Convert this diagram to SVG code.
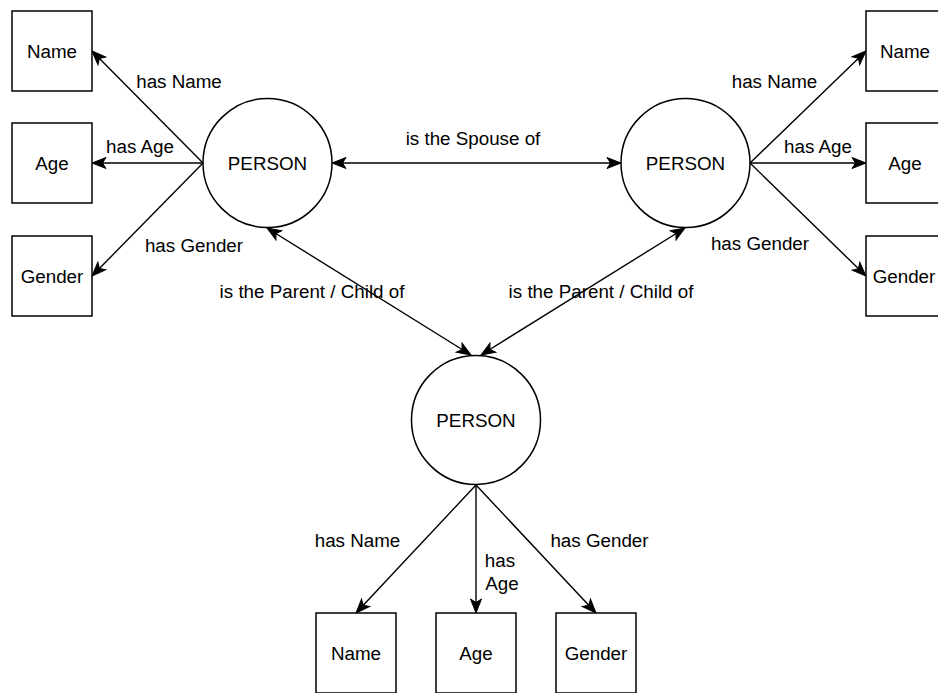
<svg xmlns="http://www.w3.org/2000/svg" width="938" height="693" viewBox="0 0 938 693">
<style>
text{font-family:"Liberation Sans",Arial,Helvetica,sans-serif;font-size:18.8px;fill:#000;text-anchor:middle}
.shape{fill:#fff;stroke:#000;stroke-width:1.5}
.edge{fill:none;stroke:#000;stroke-width:1.4}
.arr{marker-end:url(#ah)}
.bi{marker-start:url(#ah);marker-end:url(#ah)}
</style>
<defs>
<marker id="ah" markerUnits="userSpaceOnUse" markerWidth="16" markerHeight="14" viewBox="-1 -7 16 14" refX="14" refY="0" orient="auto-start-reverse">
<path d="M0,-5.5 L14,0 L0,5.5 L3.5,0 Z" fill="#000" stroke="#000" stroke-width="1" stroke-linejoin="miter"/>
</marker>
</defs>
<rect width="938" height="693" fill="#fff"/>
<g id="connectors">
<line class="edge arr" x1="203" y1="163" x2="92" y2="51"/>
<line class="edge arr" x1="203" y1="163" x2="92" y2="163"/>
<line class="edge arr" x1="203" y1="163" x2="92" y2="276"/>
<line class="edge arr" x1="750" y1="163" x2="866" y2="51"/>
<line class="edge arr" x1="750" y1="163" x2="866" y2="163"/>
<line class="edge arr" x1="750" y1="163" x2="866" y2="276"/>
<line class="edge bi" x1="332" y1="163" x2="621" y2="163"/>
<line class="edge bi" x1="267" y1="228" x2="471" y2="355"/>
<line class="edge bi" x1="685" y1="228" x2="481" y2="355"/>
<line class="edge arr" x1="476" y1="485" x2="356" y2="613"/>
<line class="edge arr" x1="476" y1="485" x2="476" y2="613"/>
<line class="edge arr" x1="476" y1="485" x2="596" y2="613"/>
<text x="179" y="87.5">has Name</text>
<text x="140" y="153">has Age</text>
<text x="194" y="251.5">has Gender</text>
<text x="774.5" y="88">has Name</text>
<text x="818" y="153">has Age</text>
<text x="760" y="249.5">has Gender</text>
<text x="473" y="144.5">is the Spouse of</text>
<text x="312" y="297.5">is the Parent / Child of</text>
<text x="601" y="297.5">is the Parent / Child of</text>
<text x="357.5" y="546.5">has Name</text>
<text x="500" y="566.5">has</text>
<text x="502" y="589.5">Age</text>
<text x="599.5" y="546.5">has Gender</text>
</g>
<g id="person-left"><circle class="shape" cx="267.5" cy="163" r="64.5"/><text x="267.5" y="169.5">PERSON</text></g>
<g id="person-right"><circle class="shape" cx="685.5" cy="163" r="64.5"/><text x="685.5" y="169.5">PERSON</text></g>
<g id="person-bottom"><circle class="shape" cx="476" cy="420" r="64.5"/><text x="476" y="426.5">PERSON</text></g>
<g id="left-name"><rect class="shape" x="12" y="11" width="80" height="80"/><text x="52" y="57.5">Name</text></g>
<g id="left-age"><rect class="shape" x="12" y="123" width="80" height="80"/><text x="52" y="169.5">Age</text></g>
<g id="left-gender"><rect class="shape" x="12" y="236" width="80" height="80"/><text x="52" y="282.5">Gender</text></g>
<g id="right-name"><rect class="shape" x="866" y="11" width="80" height="80"/><text x="905" y="57.5">Name</text></g>
<g id="right-age"><rect class="shape" x="866" y="123" width="80" height="80"/><text x="905" y="169.5">Age</text></g>
<g id="right-gender"><rect class="shape" x="866" y="236" width="80" height="80"/><text x="904" y="282.5">Gender</text></g>
<g id="bottom-name"><rect class="shape" x="316" y="613" width="80" height="80"/><text x="356" y="659.5">Name</text></g>
<g id="bottom-age"><rect class="shape" x="436" y="613" width="80" height="80"/><text x="476" y="659.5">Age</text></g>
<g id="bottom-gender"><rect class="shape" x="556" y="613" width="80" height="80"/><text x="596" y="659.5">Gender</text></g>
</svg>
